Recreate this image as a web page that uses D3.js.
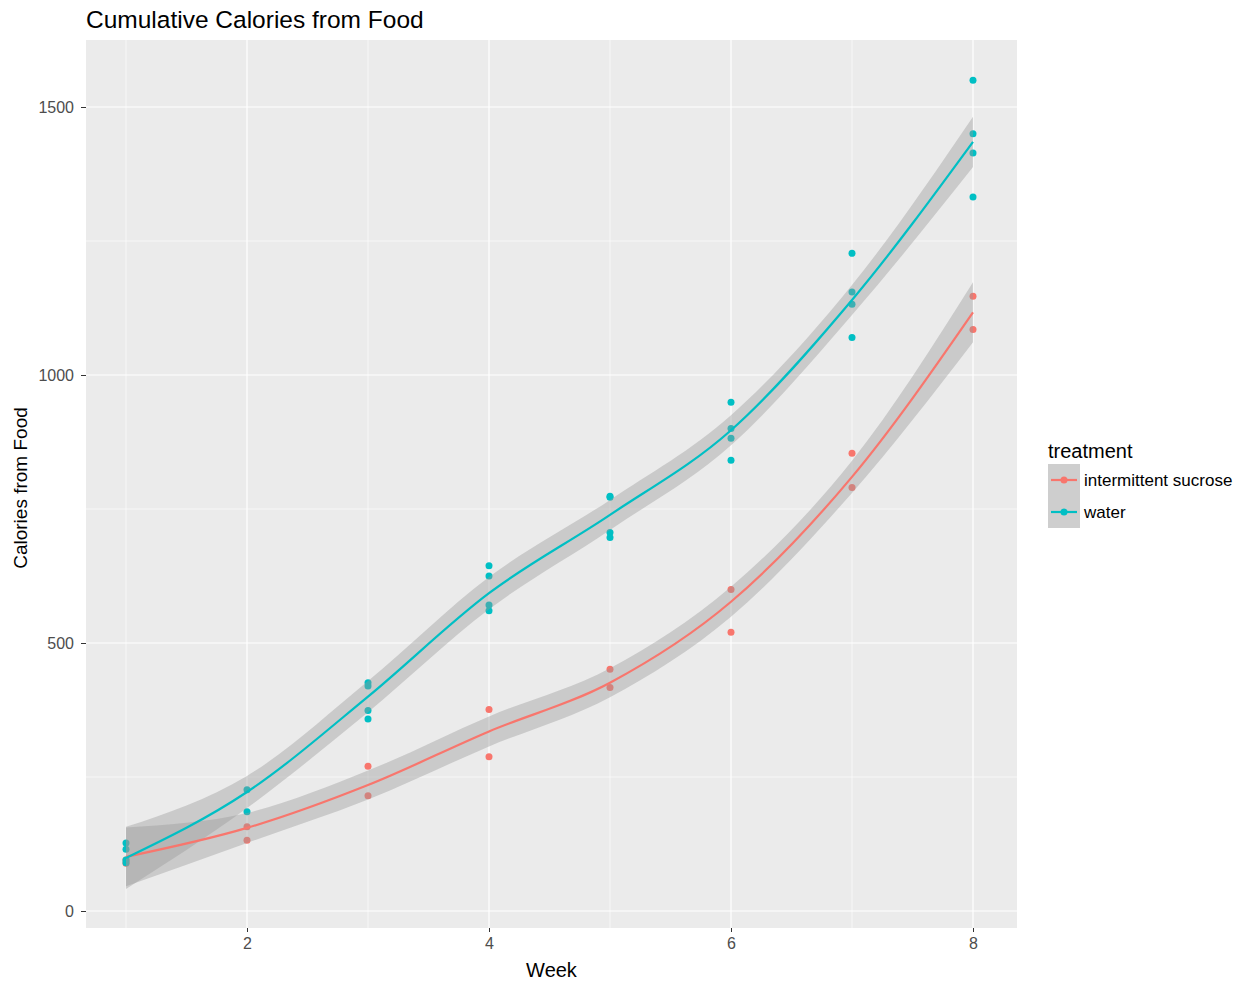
<!DOCTYPE html>
<html>
<head>
<meta charset="utf-8">
<script src="https://cdn.jsdelivr.net/npm/d3@7"></script>
<style>
  body { margin: 0; background: #fff; }
  text { font-family: "Liberation Sans", Arial, sans-serif; }
</style>
</head>
<body>
<script>
// observed points per week
const weeks = [1, 2, 3, 4, 5, 6, 7, 8]
const waterPoints = [
  [127, 115, 95, 90],
  [226, 185],
  [426, 420, 374, 358],
  [644, 625, 571, 560],
  [774, 772, 706, 697],
  [949, 900, 882, 841],
  [1227, 1155, 1132, 1070],
  [1550, 1450, 1414, 1332]
]
const sucrosePoints = [
  [89, 95],
  [157, 132],
  [270, 215],
  [376, 288],
  [451, 417],
  [600, 520],
  [854, 790],
  [1147, 1085]
]
// smoother: fitted value and band half width
const waterFit = [99, 222, 400, 593, 739, 897, 1140, 1435]
const waterSe = [58, 30, 29, 30, 28, 28, 28, 47]
const sucroseFit = [101, 155, 235, 335, 426, 577, 810, 1117]
const sucroseSe = [55, 28, 27, 28, 27, 28, 30, 56]

const groups = ['intermittent sucrose', 'water']
const colors = ['#F8766D', '#00BFC4']

const xTicks = [2, 4, 6, 8]
const xMinor = [1, 3, 5, 7]
const yTicks = [0, 500, 1000, 1500]
const yMinor = [250, 750, 1250]

const width = 1245, height = 986
const panel = { left: 86, right: 1017, top: 40, bottom: 928 }

const x = d3.scaleLinear().domain([1, 8]).range([126, 973])
const y = d3.scaleLinear().domain([0, 1500]).range([911, 107])

const svg = d3.select('body').append('svg')
  .attr('width', width)
  .attr('height', height)

svg.append('rect')
  .attr('x', panel.left).attr('y', panel.top)
  .attr('width', panel.right - panel.left)
  .attr('height', panel.bottom - panel.top)
  .attr('fill', '#EBEBEB')

const grid = svg.append('g')
grid.selectAll('.ymin').data(yMinor).enter().append('line')
  .attr('x1', panel.left).attr('x2', panel.right)
  .attr('y1', d => y(d)).attr('y2', d => y(d))
  .attr('stroke', '#fff').attr('stroke-width', 0.6)
grid.selectAll('.xmin').data(xMinor).enter().append('line')
  .attr('y1', panel.top).attr('y2', panel.bottom)
  .attr('x1', d => x(d)).attr('x2', d => x(d))
  .attr('stroke', '#fff').attr('stroke-width', 0.6)
grid.selectAll('.ymaj').data(yTicks).enter().append('line')
  .attr('x1', panel.left).attr('x2', panel.right)
  .attr('y1', d => y(d)).attr('y2', d => y(d))
  .attr('stroke', '#fff').attr('stroke-width', 1.2)
grid.selectAll('.xmaj').data(xTicks).enter().append('line')
  .attr('y1', panel.top).attr('y2', panel.bottom)
  .attr('x1', d => x(d)).attr('x2', d => x(d))
  .attr('stroke', '#fff').attr('stroke-width', 1.2)

// points
const flat = (pts, g) => pts.flatMap((vals, i) => vals.map(v => ({ week: weeks[i], v, g })))
const allPoints = flat(sucrosePoints, 0).concat(flat(waterPoints, 1))

svg.append('g').selectAll('circle')
  .data(allPoints).enter().append('circle')
  .attr('cx', d => x(d.week))
  .attr('cy', d => y(d.v))
  .attr('r', 3.5)
  .attr('fill', d => colors[d.g])

// smoothers
const fits = [
  weeks.map((w, i) => ({ w, fit: sucroseFit[i], se: sucroseSe[i] })),
  weeks.map((w, i) => ({ w, fit: waterFit[i], se: waterSe[i] }))
]

const area = d3.area()
  .x(d => x(d.w))
  .y0(d => y(d.fit - d.se))
  .y1(d => y(d.fit + d.se))
  .curve(d3.curveMonotoneX)

const line = d3.line()
  .x(d => x(d.w))
  .y(d => y(d.fit))
  .curve(d3.curveMonotoneX)

fits.forEach(f => {
  svg.append('path')
    .attr('d', area(f))
    .attr('fill', '#999999')
    .attr('fill-opacity', 0.4)
})
fits.forEach((f, i) => {
  svg.append('path')
    .attr('d', line(f))
    .attr('fill', 'none')
    .attr('stroke', colors[i])
    .attr('stroke-width', 2.2)
})

// axes
const xAxis = svg.append('g')
  .attr('transform', `translate(0,${panel.bottom})`)
  .call(d3.axisBottom(x).tickValues(xTicks).tickSize(4).tickPadding(6).tickFormat(d3.format('d')))
const yAxis = svg.append('g')
  .attr('transform', `translate(${panel.left},0)`)
  .call(d3.axisLeft(y).tickValues(yTicks).tickSize(5).tickPadding(7).tickFormat(d3.format('d')))

;[xAxis, yAxis].forEach(a => {
  a.select('.domain').remove()
  a.selectAll('line').attr('stroke', '#333333').attr('stroke-width', 1)
  a.selectAll('text')
    .attr('fill', '#4D4D4D')
    .style('font-size', '16px')
    .style('font-family', '"Liberation Sans", Arial, sans-serif')
})

svg.append('text')
  .attr('x', (panel.left + panel.right) / 2)
  .attr('y', 977)
  .attr('text-anchor', 'middle')
  .style('font-size', '20px')
  .text('Week')

svg.append('text')
  .attr('transform', `translate(27,488) rotate(-90)`)
  .attr('text-anchor', 'middle')
  .style('font-size', '19px')
  .text('Calories from Food')

svg.append('text')
  .attr('x', panel.left)
  .attr('y', 28)
  .style('font-size', '24.5px')
  .text('Cumulative Calories from Food')

// legend
const legend = svg.append('g').attr('transform', 'translate(1048,464)')
legend.append('text')
  .attr('x', 0).attr('y', -6)
  .style('font-size', '20px')
  .text('treatment')

groups.forEach((g, i) => {
  const row = legend.append('g').attr('transform', `translate(0,${i * 32})`)
  row.append('rect')
    .attr('width', 32).attr('height', 32)
    .attr('fill', '#F2F2F2')
  row.append('rect')
    .attr('width', 32).attr('height', 32)
    .attr('fill', '#999999').attr('fill-opacity', 0.4)
  row.append('line')
    .attr('x1', 3).attr('x2', 29)
    .attr('y1', 16).attr('y2', 16)
    .attr('stroke', colors[i]).attr('stroke-width', 2.2)
  row.append('circle')
    .attr('cx', 16).attr('cy', 16).attr('r', 3.5)
    .attr('fill', colors[i])
  row.append('text')
    .attr('x', 36).attr('y', 22)
    .style('font-size', '17px')
    .text(g)
})
</script>
</body>
</html>
